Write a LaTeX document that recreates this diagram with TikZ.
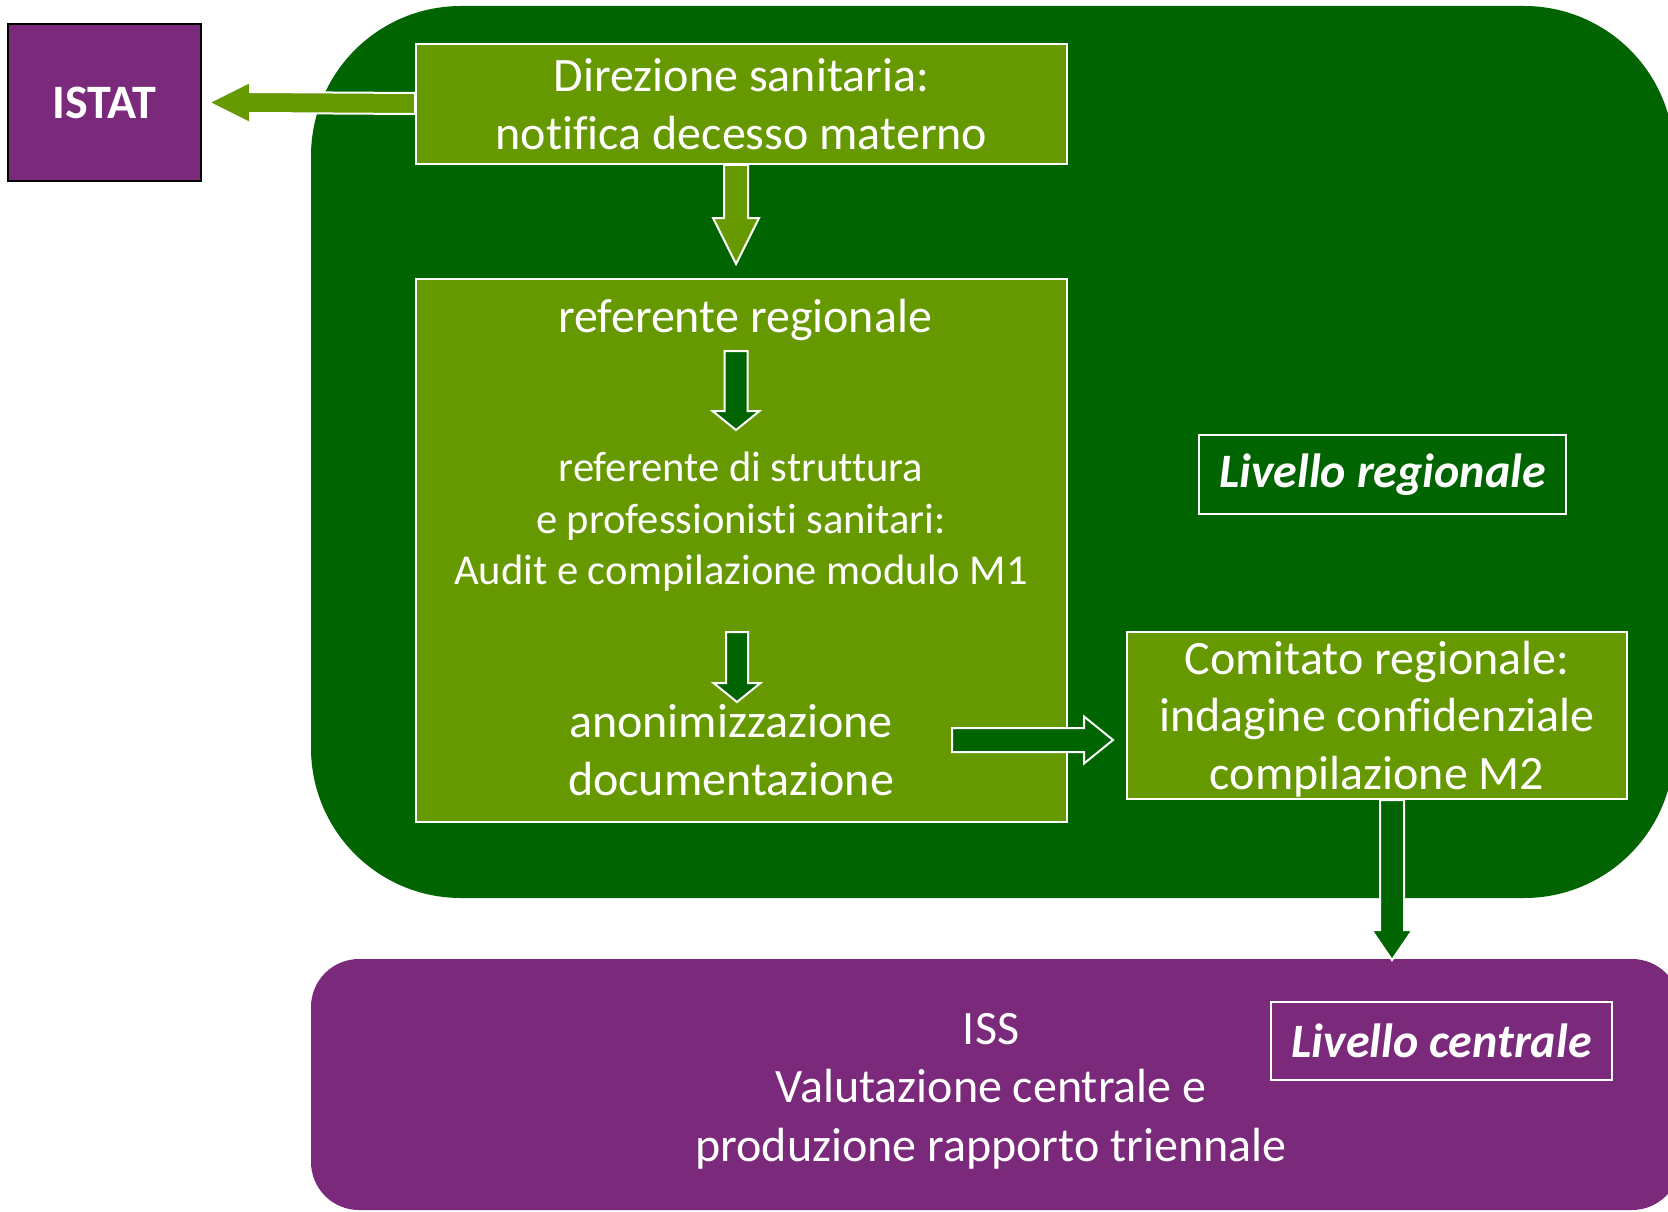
\documentclass[tikz,border=0pt]{standalone}
\usepackage{fontspec}
\setmainfont{Carlito}[Ligatures=CommonOff]
\usetikzlibrary{calc}
\definecolor{dkgreen}{HTML}{006400}
\definecolor{ltgreen}{HTML}{669900}
\definecolor{purp}{HTML}{7B2A7B}
\tikzset{
  greenbox/.style={draw=white, line width=2pt, fill=ltgreen, inner sep=0pt, text=white, align=center},
  txtnode/.style={text=white, align=center, inner sep=0pt},
  bigtxt/.style={font=\fontsize{48}{57.5}\selectfont},
  smalltxt/.style={font=\fontsize{42.6}{51.5}\selectfont},
  lvlbox/.style={draw=white, line width=2pt, text=white, inner sep=0pt, font=\fontsize{48}{56}\selectfont\bfseries\itshape},
  blockarrow/.style={draw=white, line width=2pt, line join=miter},
}
\newcommand\varrow[6]{%
  \draw[blockarrow,fill=#6] ($(#1)+(-#3,0)$) -- ($(#2)+(-#3,-#5)$) -- ($(#2)+(-#4,-#5)$) -- (#2)
    -- ($(#2)+(#4,-#5)$) -- ($(#2)+(#3,-#5)$) -- ($(#1)+(#3,0)$) -- cycle;}
\begin{document}
\begin{tikzpicture}[x=1pt,y=-1pt]
\useasboundingbox (0,0) rectangle (1668,1212);
% regions
\node[fill=dkgreen, rounded corners=150pt, minimum width=1363pt, minimum height=892pt, inner sep=0pt] (regional) at (992.5,452) {};
\node[fill=purp, rounded corners=48pt, minimum width=1369pt, minimum height=251pt, inner sep=0pt] (central) at (995.5,1084.5) {};
% ISTAT
\node[fill=purp, draw=black, line width=2pt, minimum width=193pt, minimum height=157pt, inner sep=0pt, text=white, font=\fontsize{48}{56}\selectfont\bfseries] (istat) at (104.5,102.5) {ISTAT};
% boxes
\node[greenbox, bigtxt, minimum width=651pt, minimum height=120pt] (dir) at (741.5,104) {Direzione sanitaria:\\notifica decesso materno};
\node[greenbox, minimum width=651pt, minimum height=543pt] (big) at (741.5,550.5) {};
\node[greenbox, minimum width=500pt, minimum height=167pt] (com) at (1377,715.5) {};
\node[txtnode, font=\fontsize{48}{57.5}\selectfont] (comtxt) at (1377,719) {Comitato regionale:\\indagine confidenziale\\compilazione M2};
\node[txtnode, bigtxt] (rr) at (745,320) {referente regionale};
\node[txtnode, smalltxt] (strutt) at (741,522) {referente di struttura\\e professionisti sanitari:\\Audit e compilazione modulo M1};
\node[txtnode, bigtxt] (anon) at (731,750) {anonimizzazione\\documentazione};
\node[lvlbox, minimum width=367pt, minimum height=79pt] (lr) at (1382.5,474.5) {Livello regionale};
\node[lvlbox, minimum width=341pt, minimum height=78pt] (lc) at (1441.5,1041) {Livello centrale};
\node[txtnode, font=\fontsize{48}{58.5}\selectfont] (iss) at (991,1091) {ISS\\Valutazione centrale e\\produzione rapporto triennale};
% arrow to ISTAT
\coordinate (a0e) at ($(istat.east)+(7,0)$);
\draw[blockarrow, fill=ltgreen] ($(dir.west)+(0,-11)$) -- ($(a0e)+(41,-10.5)$) -- ($(a0e)+(41,-20.5)$) -- (a0e)
  -- ($(a0e)+(41,20.5)$) -- ($(a0e)+(41,10.5)$) -- ($(dir.west)+(0,10)$) -- cycle;
% arrow dir -> big
\coordinate (a1e) at (736,264);
\coordinate (a1s) at (dir.south -| a1e);
\varrow{a1s}{a1e}{12}{23}{46}{ltgreen}
% arrows inside big box
\coordinate (a2s) at (736,351);
\coordinate (a2e) at (736,430);
\varrow{a2s}{a2e}{11.5}{23.5}{19}{dkgreen}
\coordinate (a3s) at (737,632);
\coordinate (a3e) at (737,702);
\varrow{a3s}{a3e}{11}{23.5}{19}{dkgreen}
% arrow anon -> comitato
\coordinate (a5s) at (952,740);
\coordinate (a5e) at (1113,740);
\draw[blockarrow, fill=dkgreen] ($(a5s)+(0,-12)$) -- ($(a5e)+(-29,-12)$) -- ($(a5e)+(-29,-23.5)$) -- (a5e)
  -- ($(a5e)+(-29,23.5)$) -- ($(a5e)+(-29,12)$) -- ($(a5s)+(0,12)$) -- cycle;
% arrow comitato -> central
\coordinate (a4e) at (1392,960);
\coordinate (a4s) at (com.south -| a4e);
\varrow{a4s}{a4e}{12}{20.5}{30}{dkgreen}
\end{tikzpicture}
\end{document}
